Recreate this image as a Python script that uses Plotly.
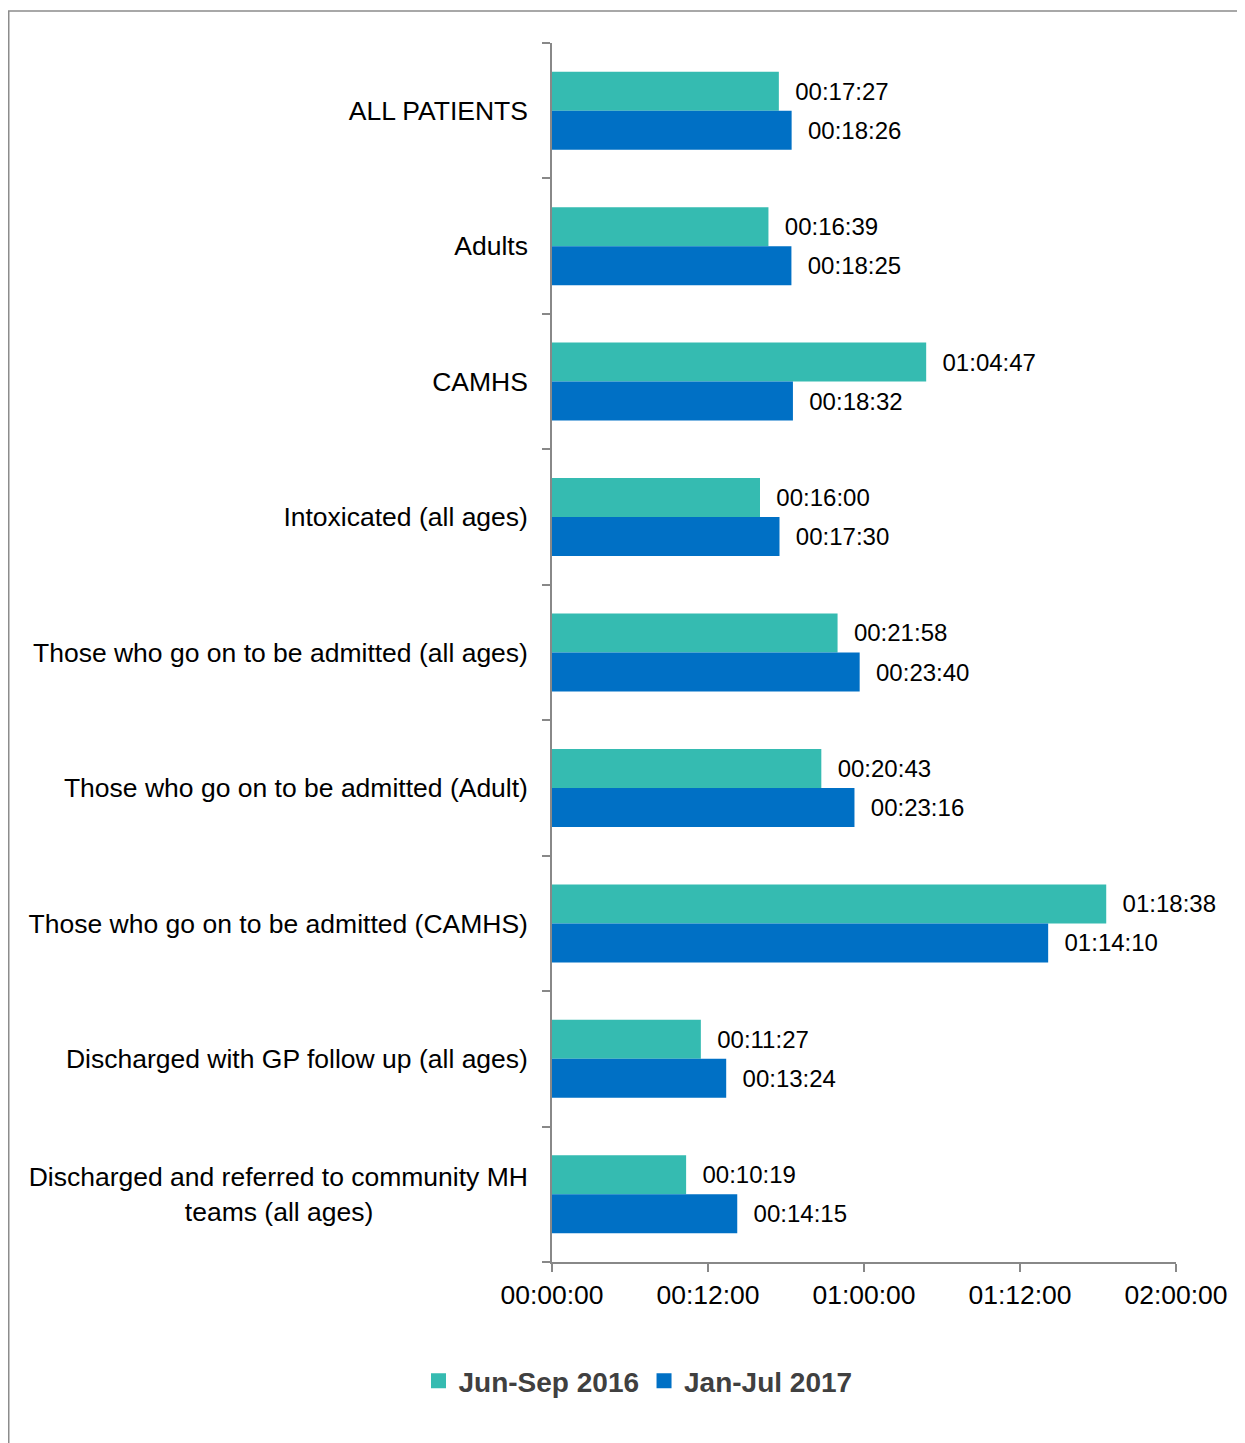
import plotly.graph_objects as go

categories = [
    "ALL PATIENTS",
    "Adults",
    "CAMHS",
    "Intoxicated (all ages)",
    "Those who go on to be admitted (all ages)",
    "Those who go on to be admitted (Adult)",
    "Those who go on to be admitted (CAMHS)",
    "Discharged with GP follow up (all ages)",
    "Discharged and referred to community MH teams (all ages)",
]
# wrapped/centred tick labels for the category axis
category_labels = [
    "ALL PATIENTS",
    "Adults",
    "CAMHS",
    "Intoxicated (all ages)",
    "Those who go on to be admitted (all ages)",
    "Those who go on to be admitted (Adult)",
    "Those who go on to be admitted (CAMHS)",
    "Discharged with GP follow up (all ages)",
    "Discharged and referred to community MH<br>teams (all ages)" + "\u00a0" * 21,
]
# values as displayed (dd:hh:mm)
jun_sep_2016 = ["00:17:27", "00:16:39", "01:04:47", "00:16:00", "00:21:58",
                "00:20:43", "01:18:38", "00:11:27", "00:10:19"]
jan_jul_2017 = ["00:18:26", "00:18:25", "00:18:32", "00:17:30", "00:23:40",
                "00:23:16", "01:14:10", "00:13:24", "00:14:15"]
tick_vals = [0, 12, 24, 36, 48]
tick_text = ["00:00:00", "00:12:00", "01:00:00", "01:12:00", "02:00:00"]
series_names = ["Jun-Sep 2016", "Jan-Jul 2017"]
colors = ["#35BBB1", "#0070C5"]


def to_hours(s):
    d, h, m = (int(p) for p in s.split(":"))
    return d * 24 + h + m / 60.0


# page body has an 8px margin; figure is drawn offset by it
OFF = 8
W, H = 1245 - OFF, 1443 - OFF
L, R, T, B = 552 - OFF, 1176 - OFF, 43 - OFF, 1262 - OFF

fig = go.Figure()
for name, vals, col in zip(series_names, [jun_sep_2016, jan_jul_2017], colors):
    fig.add_trace(go.Bar(
        y=categories,
        x=[to_hours(v) for v in vals],
        orientation="h",
        name=name,
        showlegend=False,
        marker=dict(color=col, line=dict(width=0)),
        text=["\u00a0\u00a0" + v for v in vals],
        textposition="outside",
        constraintext="none",
        textfont=dict(family="Liberation Sans, Arial", size=24, color="#000000"),
        cliponaxis=False,
    ))
# legend entries with larger square swatches
for name, col in zip(series_names, colors):
    fig.add_trace(go.Scatter(
        x=[None], y=[None], mode="markers", name=name,
        marker=dict(color=col, symbol="square", size=15),
        showlegend=True,
    ))

pw, ph = R - L, B - T


def px_x(p):
    return (p - OFF - L) / pw


def px_y(p):
    return (B - (p - OFF)) / ph


fig.update_layout(
    width=W, height=H,
    margin=dict(l=L, r=W - R, t=T, b=H - B),
    paper_bgcolor="white",
    plot_bgcolor="white",
    barmode="group",
    bargap=0.424,
    bargroupgap=0,
    font=dict(family="Liberation Sans, Arial", color="#000000"),
    showlegend=True,
    legend=dict(
        orientation="h",
        x=px_x(638), xanchor="center",
        y=px_y(1381), yanchor="middle",
        font=dict(family="Liberation Sans, Arial", size=28, color="#404040", weight="bold"),
        traceorder="normal",
        itemwidth=30,
    ),
    xaxis=dict(
        range=[0, 48],
        tickvals=tick_vals,
        ticktext=tick_text,
        tickfont=dict(size=26.5, color="#000000"),
        showgrid=False,
        zeroline=False,
        showline=True,
        linecolor="#888888",
        linewidth=1.5,
        ticks="outside",
        ticklen=8,
        tickcolor="#888888",
        tickwidth=1.5,
        automargin=False,
    ),
    yaxis=dict(
        type="category",
        autorange="reversed",
        tickvals=categories,
        ticktext=category_labels,
        tickfont=dict(size=26.5, color="#000000"),
        showgrid=False,
        showline=True,
        linecolor="#888888",
        linewidth=1.5,
        ticks="outside",
        ticklen=8,
        tickcolor="#888888",
        tickwidth=1.5,
        tickson="boundaries",
        ticklabelstandoff=17,
        automargin=False,
    ),
    shapes=[
        dict(type="rect", xref="paper", yref="paper",
             x0=px_x(8.75), x1=px_x(1270), y0=px_y(1470), y1=px_y(11),
             line=dict(color="#8c8c8c", width=1.5), fillcolor="rgba(0,0,0,0)",
             layer="below"),
    ],
)

fig.write_html("out.html")
